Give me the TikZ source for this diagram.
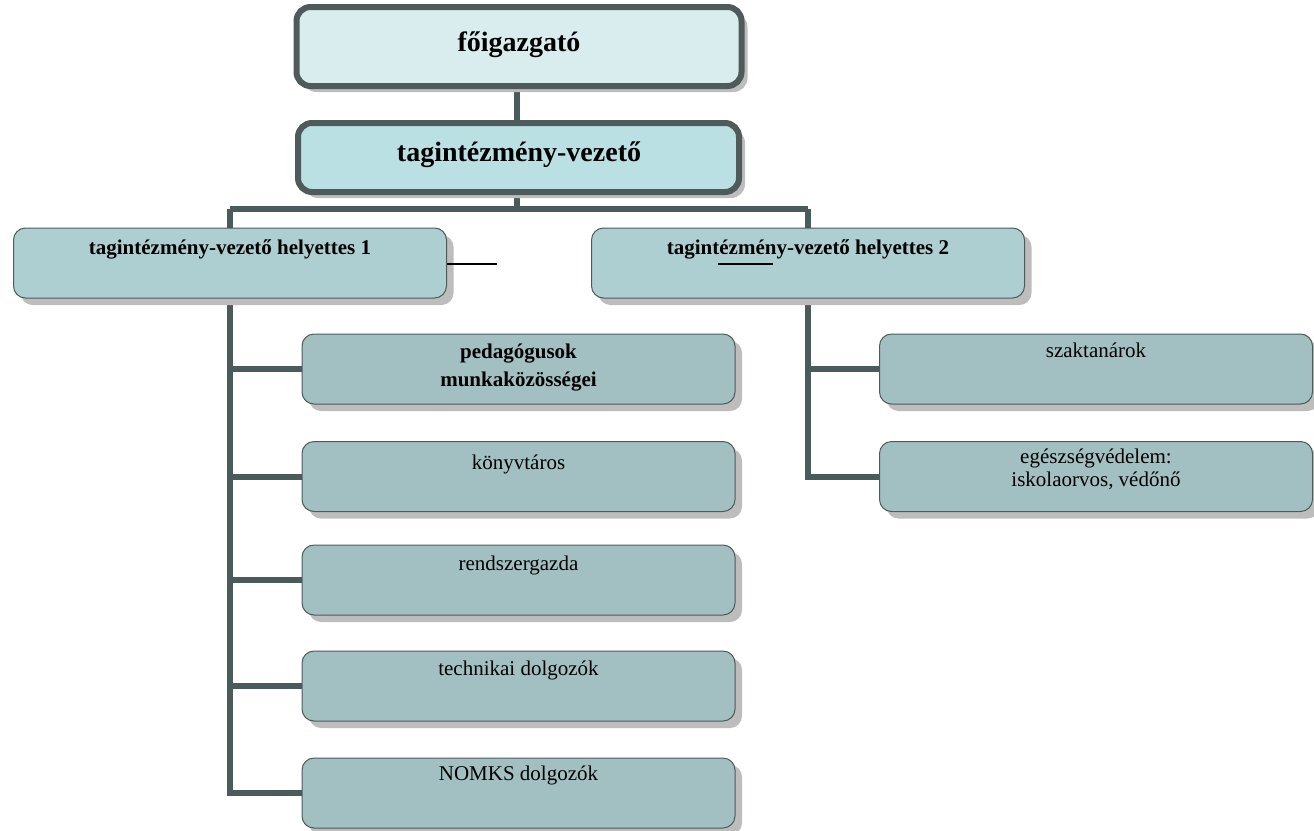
\documentclass[tikz,border=0pt]{standalone}
\usepackage{fontspec}
\setmainfont{Liberation Serif}
\usetikzlibrary{shadows}
\definecolor{conncol}{HTML}{4B5A5B}
\definecolor{fillA}{HTML}{D9EDEF}
\definecolor{fillB}{HTML}{BAE0E3}
\definecolor{fillC}{HTML}{AECFD1}
\definecolor{fillD}{HTML}{A2BFC1}
\definecolor{shadowcol}{HTML}{BDBDBD}
\definecolor{edgecol}{HTML}{4F5A5B}
\pgfdeclarelayer{bg}
\pgfsetlayers{bg,main}
\tikzset{
  conn/.style={draw=conncol, line width=6pt},
  thin line/.style={draw=black, line width=1.5pt},
  topbox/.style={rectangle, rounded corners=14pt, draw=edgecol, line width=6pt,
    minimum width=445pt, minimum height=79pt,
    drop shadow={shadow xshift=6pt, shadow yshift=-6pt, fill=shadowcol, opacity=1}},
  midbox/.style={rectangle, rounded corners=12pt, draw=edgecol, line width=1pt,
    minimum width=433pt, minimum height=70pt, fill=fillC,
    drop shadow={shadow xshift=7pt, shadow yshift=-7pt, fill=shadowcol, opacity=1}},
  childbox/.style={midbox, fill=fillD},
  bigtxt/.style={anchor=base, font=\fontsize{28}{30}\selectfont\bfseries, inner sep=0pt},
  midtxt/.style={anchor=base, align=center, font=\fontsize{21}{28}\selectfont\bfseries, inner sep=0pt},
  smalltxt/.style={anchor=base, align=center, font=\fontsize{21}{23}\selectfont, inner sep=0pt}
}
\begin{document}
\begin{tikzpicture}[x=1pt,y=-1pt]
\useasboundingbox (0,0) rectangle (1314,830);
% boxes
\node[topbox, fill=fillA] (fo) at (519,46.5) {};
\node[topbox, fill=fillB, minimum height=69pt, minimum width=441pt] (tv) at (518.5,157.5) {};
\node[midbox] (h1) at (230,263) {};
\node[midbox] (h2) at (808,263) {};
\node[childbox] (c1) at (518.5,369) {};
\node[childbox] (c2) at (518.5,476.5) {};
\node[childbox] (c3) at (518.5,580) {};
\node[childbox] (c4) at (518.5,686) {};
\node[childbox] (c5) at (518.5,793) {};
\node[childbox] (d1) at (1096,369) {};
\node[childbox] (d2) at (1096,476.5) {};
% texts
\node[bigtxt] (tfo) at (519,51) {főigazgató};
\node[bigtxt] (ttv) at (519,161) {tagintézmény-vezető};
\node[midtxt] (th1) at (230,254) {tagintézmény-vezető helyettes 1};
\node[midtxt] (th2) at (808,254) {tagintézmény-vezető helyettes 2};
\node[midtxt] (tc1) at (518.5,386) {pedagógusok\\munkaközösségei};
\node[smalltxt] (tc2) at (518.5,469) {könyvtáros};
\node[smalltxt] (tc3) at (518.5,570) {rendszergazda};
\node[smalltxt] (tc4) at (518.5,675) {technikai dolgozók};
\node[smalltxt] (tc5) at (518.5,780) {NOMKS dolgozók};
\node[smalltxt] (td1) at (1096,357) {szaktanárok};
\node[smalltxt] (td2) at (1096,486) {egészségvédelem:\\iskolaorvos, védőnő};
% connectors
\coordinate (bus) at (517,209);
\coordinate (busL) at (230,209);
\coordinate (busR) at (808,209);
\coordinate (h1end) at (497,264);
\coordinate (u1) at (718,264);
\coordinate (u2) at (773,264);
\begin{pgfonlayer}{bg}
\draw[conn] (fo.south -| bus) -- (tv.north -| bus);
\draw[conn] (tv.south -| bus) -- (bus);
\draw[conn] (busL) -- (busR);
\draw[conn] (busL) -- (h1.north);
\draw[conn] (busR) -- (h2.north);
\draw[conn] (h1.south) |- (c5.west);
\draw[conn] (h1.south |- c1.west) -- (c1.west);
\draw[conn] (h1.south |- c2.west) -- (c2.west);
\draw[conn] (h1.south |- c3.west) -- (c3.west);
\draw[conn] (h1.south |- c4.west) -- (c4.west);
\draw[conn] (h2.south) |- (d2.west);
\draw[conn] (h2.south |- d1.west) -- (d1.west);
\end{pgfonlayer}
\draw[thin line] (h1.east |- h1end) -- (h1end);
\draw[thin line] (u1) -- (u2);
\end{tikzpicture}
\end{document}
